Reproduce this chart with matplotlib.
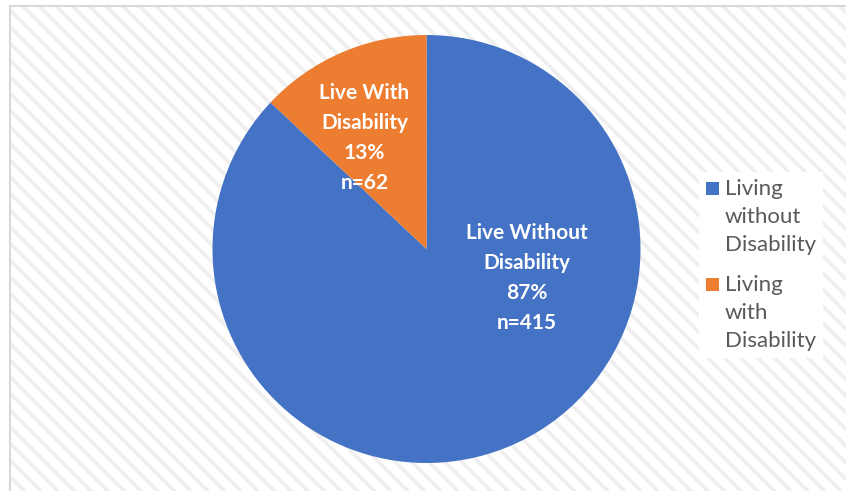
import matplotlib
matplotlib.use("Agg")
import matplotlib.pyplot as plt
from matplotlib.patches import Rectangle, Patch
from matplotlib.legend_handler import HandlerPatch

plt.rcParams['font.family'] = ['Lato', 'DejaVu Sans']
plt.rcParams['hatch.linewidth'] = 2.6
plt.rcParams['hatch.color'] = '#efefef'

# data
categories = ["Living without Disability", "Living with Disability"]
counts = [415, 62]
slice_labels = ["Live Without\nDisability", "Live With\nDisability"]
legend_labels = ["Living\nwithout\nDisability", "Living\nwith\nDisability"]
colors = ["#4472C4", "#ED7D31"]

total = sum(counts)

fig = plt.figure(figsize=(8.46, 4.91), dpi=100)
fig.patch.set_facecolor('white')

# striped background + frame
bg = Rectangle((10 / 846, -0.1), 1.2, 1.1 - 6 / 491, transform=fig.transFigure,
               facecolor='white', edgecolor='#efefef', hatch='\\\\', lw=0, zorder=-3)
fig.patches.append(bg)
frame = Rectangle((10 / 846, -0.1), 1.2, 1.1 - 6 / 491, transform=fig.transFigure,
                  fill=False, edgecolor='#d9d9d9', lw=1.5, zorder=-2)
fig.patches.append(frame)

ax = fig.add_axes([212.5 / 846, 28 / 491, 428 / 846, 428 / 491])
ax.set_zorder(2)
ax.set_facecolor('none')
wedges, _ = ax.pie(counts, colors=colors, startangle=90, counterclock=False,
                   wedgeprops=dict(linewidth=0))
ax.set_xlim(-1, 1)
ax.set_ylim(-1, 1)
ax.set_aspect('equal')
ax.axis('off')

label_pos = [(0.47, -0.135), (-0.29, 0.52)]
for lab, n, pos in zip(slice_labels, counts, label_pos):
    pct = round(100 * n / total)
    ax.text(pos[0], pos[1], "%s\n%d%%\nn=%d" % (lab, pct, n), ha='center', va='center',
            color='white', fontsize=15, fontweight='bold', linespacing=1.62)


def top_square(legend, orig_handle, xdescent, ydescent, width, height, fontsize):
    sq = 0.59 * fontsize
    return Rectangle((-xdescent, -ydescent + height - sq + 0.55 * fontsize), sq, sq)


handles = [Patch(facecolor=c, edgecolor='none') for c in colors]
leg = fig.legend(handles, legend_labels, loc='upper left',
                 bbox_to_anchor=(688 / 846, 1 - 161 / 491), frameon=True,
                 facecolor='white', edgecolor='none', framealpha=1, fancybox=False,
                 fontsize=16, labelcolor='#595959', handlelength=0.59,
                 handleheight=3.0, handletextpad=0.27, labelspacing=0.91,
                 borderpad=0.3,
                 handler_map={Patch: HandlerPatch(patch_func=top_square)})
leg.set_zorder(3)
for t in leg.get_texts():
    t.set_linespacing(1.5)

fig.savefig("out.png", dpi=100)
